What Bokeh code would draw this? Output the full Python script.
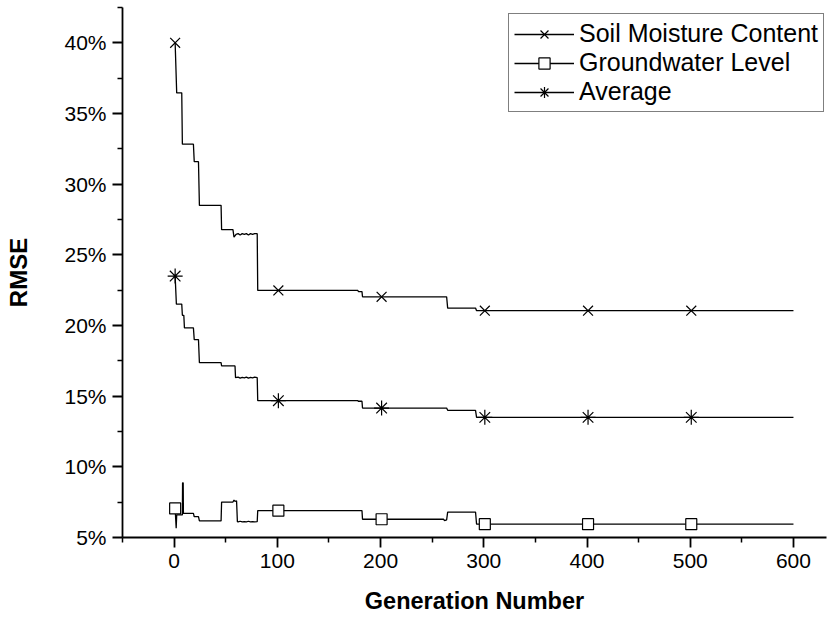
from bokeh.plotting import figure
from bokeh.models import FixedTicker, PrintfTickFormatter, Range1d, Legend
from bokeh.embed import file_html
from bokeh.resources import INLINE

# ---- data ----
gen_soil = [1, 2.5, 7.4, 8, 18.7, 19.5, 23.6, 24.5, 45.5, 46, 57, 58, 60, 62, 64, 66, 68, 70,
            72, 74, 76, 78, 80.5, 81, 178, 178.5, 182, 182.5, 264, 265, 292, 293, 600]
soil = [40.0, 36.46, 36.46, 32.83, 32.83, 31.59, 31.59, 28.5, 28.5, 26.78, 26.78, 26.25, 26.45,
        26.5, 26.4, 26.5, 26.45, 26.5, 26.4, 26.5, 26.45, 26.5, 26.5, 22.48, 22.48, 22.4, 22.4,
        22.03, 22.03, 21.23, 21.23, 21.05, 21.05]

gen_gw = [1, 2, 2.5, 8, 8.2, 8.8, 9, 18.7, 19.5, 23.6, 24.5, 45.5, 46, 57, 58, 59, 60.5, 61.3,
          62, 64, 66, 68, 70, 72, 74, 76, 78, 80.5, 81, 182, 182.5, 261, 262, 264, 265, 292, 293, 600]
gw = [7.06, 5.65, 6.6, 6.6, 8.87, 8.87, 6.71, 6.71, 6.47, 6.47, 6.17, 6.17, 7.51, 7.51, 7.65, 7.55,
      7.6, 6.12, 6.1, 6.15, 6.1, 6.12, 6.1, 6.15, 6.1, 6.12, 6.1, 6.12, 6.9, 6.9, 6.29, 6.29, 6.2,
      6.25, 6.8, 6.8, 5.94, 5.94]

gen_avg = [1, 2.2, 7.4, 8, 9.4, 10, 18.7, 19.5, 23.6, 24.5, 45.5, 46, 59, 59.5, 62, 64, 66, 68,
           70, 72, 74, 76, 78, 80.5, 81, 178, 178.5, 182, 182.5, 264, 265, 292, 293, 600]
avg = [23.5, 21.51, 21.51, 20.72, 20.72, 19.83, 19.83, 19.0, 19.0, 17.37, 17.37, 17.14, 17.14,
       16.31, 16.35, 16.28, 16.33, 16.3, 16.35, 16.28, 16.33, 16.3, 16.35, 16.31, 14.68, 14.68,
       14.64, 14.64, 14.16, 14.16, 14.0, 14.0, 13.5, 13.5]

mark_gen = [1, 101, 201, 301, 401, 501]
soil_mark = [40.0, 22.48, 22.03, 21.05, 21.05, 21.05]
gw_mark = [7.06, 6.9, 6.29, 5.94, 5.94, 5.94]
avg_mark = [23.5, 14.68, 14.16, 13.5, 13.5, 13.5]

x_ticks = [0, 100, 200, 300, 400, 500, 600]
x_minor = [-50, 50, 150, 250, 350, 450, 550, 650]
y_ticks = [5, 10, 15, 20, 25, 30, 35, 40]
y_minor = [7.5, 12.5, 17.5, 22.5, 27.5, 32.5, 37.5, 42.5]

FONT = "Liberation Sans"

p = figure(width=829, height=616, output_backend="svg", toolbar_location=None,
           x_range=Range1d(-50, 632), y_range=Range1d(5, 42.5),
           min_border_left=122, min_border_top=7, min_border_right=3, min_border_bottom=75)
p.outline_line_color = None
p.background_fill_color = "white"
p.border_fill_color = "white"
p.xgrid.visible = False
p.ygrid.visible = False

lw = 1.3
r1 = p.line(gen_soil, soil, line_color="black", line_width=lw)
m1 = p.scatter(mark_gen, soil_mark, marker="x", size=14, line_color="black", line_width=1.2)
r2 = p.line(gen_gw, gw, line_color="black", line_width=lw)
m2 = p.scatter(mark_gen, gw_mark, marker="square", size=11, line_color="black",
               fill_color="white", line_width=1.2)
r3 = p.line(gen_avg, avg, line_color="black", line_width=lw)
m3 = p.scatter(mark_gen, avg_mark, marker="asterisk", size=15, line_color="black", line_width=1.2)

legend = Legend(items=[("Soil Moisture Content", [r1, m1]),
                       ("Groundwater Level", [r2, m2]),
                       ("Average", [r3, m3])],
                location=(386, 425))
legend.label_text_font = FONT
legend.label_text_font_size = "25px"
legend.label_text_color = "black"
legend.glyph_width = 60
legend.glyph_height = 28
legend.label_height = 28
legend.label_standoff = 5
legend.padding = 5
legend.spacing = 0
legend.border_line_color = "black"
legend.border_line_width = 1
legend.background_fill_color = "white"
legend.background_fill_alpha = 1
p.add_layout(legend, "center")

for ax in (p.xaxis[0], p.yaxis[0]):
    ax.axis_line_width = 1.8
    ax.axis_line_color = "black"
    ax.major_tick_line_width = 1.8
    ax.minor_tick_line_width = 1.5
    ax.major_tick_out = 10
    ax.major_tick_in = 0
    ax.minor_tick_out = 5
    ax.minor_tick_in = 0
    ax.major_label_text_font = FONT
    ax.major_label_text_font_size = "21px"
    ax.major_label_text_color = "black"
    ax.axis_label_text_font = FONT
    ax.axis_label_text_font_style = "bold"
    ax.axis_label_text_color = "black"

p.xaxis[0].ticker = FixedTicker(ticks=x_ticks, minor_ticks=x_minor)
p.yaxis[0].ticker = FixedTicker(ticks=y_ticks, minor_ticks=y_minor)
p.yaxis[0].formatter = PrintfTickFormatter(format="%d%%")
p.xaxis[0].axis_label = "Generation Number"
p.yaxis[0].axis_label = "RMSE"
p.xaxis[0].axis_label_text_font_size = "23.5px"
p.yaxis[0].axis_label_text_font_size = "24px"
p.xaxis[0].axis_label_standoff = 17
p.yaxis[0].axis_label_standoff = 29
p.xaxis[0].major_label_standoff = 6
p.yaxis[0].major_label_standoff = 6

open("out.html", "w").write(file_html(p, INLINE))
